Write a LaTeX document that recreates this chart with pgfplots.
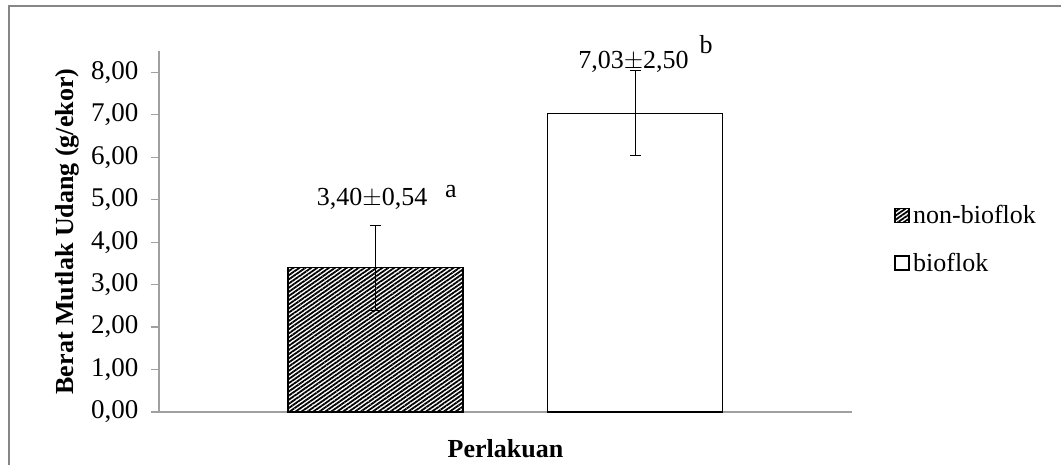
\documentclass[border=0pt]{standalone}
\usepackage{fontspec}
\setmainfont{Liberation Serif}
\usepackage{pgfplots}
\pgfplotsset{compat=1.18}
\usetikzlibrary{patterns.meta}
\definecolor{framegray}{RGB}{134,134,134}
\definecolor{axisgray}{RGB}{160,160,160}
\newcommand{\chartfont}{\fontsize{26}{31}\selectfont}

\begin{document}
\begin{tikzpicture}[x=1pt,y=1pt]
\useasboundingbox (0,0) rectangle (1061,465);
  \begin{axis}[
    at={(159pt,53pt)}, anchor=south west,
    scale only axis,
    width=693pt, height=361pt,
    xmin=-0.834, xmax=1.836,
    ymin=0, ymax=8.5,
    ytick={0,1,...,8},
    xtick=\empty,
    axis x line=bottom, axis y line=left,
    axis line style={-, draw=axisgray, line width=1.5pt},
    tick align=outside,
    major tick length=8pt,
    every tick/.style={axisgray, line width=1.2pt},
    font=\chartfont,
    /pgf/number format/assume math mode=true,
    yticklabel style={font=\fontsize{27}{32}\selectfont, xshift=-9pt,
      /pgf/number format/.cd, fixed, fixed zerofill, precision=2, use comma},
    xlabel={\bfseries Perlakuan},
    ylabel={\bfseries Berat Mutlak Udang (g/ekor)},
    every axis x label/.style={at={(axis description cs:0.5,0)}, anchor=center, yshift=-37pt},
    every axis y label/.style={at={(axis description cs:-0.1328,0.5)}, rotate=90, anchor=center},
    clip=false,
    ybar, bar shift=0pt, bar width=0.674,
    legend image code/.code={\draw[#1, line width=1.2pt] (0pt,-7pt) rectangle (14pt,7pt);},
    legend cell align=left,
    legend style={at={(axis description cs:1.061,0.479)}, anchor=west,
      draw=none, fill=none, inner sep=0pt, row sep=21pt,
      nodes={inner sep=3.5pt}, font=\chartfont},
  ]
  \addplot[draw=black, line width=1.5pt,
    pattern={Lines[angle=35, distance=3.4pt, line width=1.8pt]}, pattern color=black,
    error bars/.cd, y dir=both, y explicit,
    error bar style={black, line width=1pt},
    error mark options={rotate=90, mark size=5.5pt, black, line width=1pt}]
    coordinates {(0,3.40) +- (0,1.0)};
  \addplot[draw=black, fill=white, line width=1.5pt,
    error bars/.cd, y dir=both, y explicit,
    error bar style={black, line width=1pt},
    error mark options={rotate=90, mark size=5.5pt, black, line width=1pt}]
    coordinates {(1,7.03) +- (0,1.0)};
  \legend{non-bioflok, bioflok}

  \node[anchor=base, inner sep=0pt] at (axis cs:-0.013,4.87) {3,40$\pm$0,54};
  \node[anchor=base, inner sep=0pt] at (axis cs:0.291,5.04) {a};
  \node[anchor=base, inner sep=0pt] at (axis cs:0.994,8.09) {7,03$\pm$2,50};
  \node[anchor=base, inner sep=0pt] at (axis cs:1.274,8.45) {b};
  \end{axis}
  \draw[framegray, line width=1.5pt] (9,-10) -- (9,459) -- (1075,459);
\end{tikzpicture}
\end{document}
